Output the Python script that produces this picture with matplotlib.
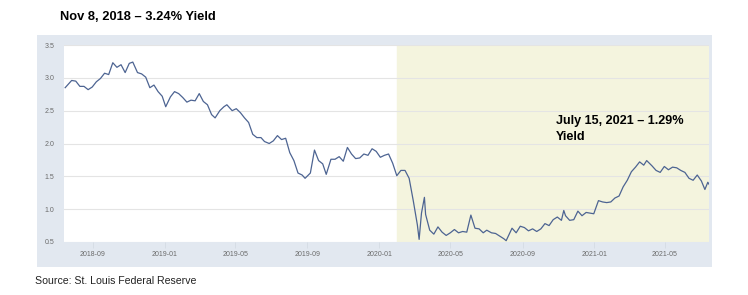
import pandas as pd
import matplotlib.pyplot as plt
import matplotlib.dates as mdates
from matplotlib.patches import Rectangle

plt.rcParams['font.family'] = ['Liberation Sans', 'DejaVu Sans']

# ---- 10Y treasury yield (approx. weekly) ----
datas = [
    "2018-07-16", "2018-07-20", "2018-07-27", "2018-08-03", "2018-08-10", "2018-08-17",
    "2018-08-24", "2018-08-31", "2018-09-07", "2018-09-14", "2018-09-21", "2018-09-28",
    "2018-10-05", "2018-10-12", "2018-10-19", "2018-10-26", "2018-11-02", "2018-11-08",
    "2018-11-16", "2018-11-23", "2018-11-30", "2018-12-07", "2018-12-14", "2018-12-21",
    "2018-12-28", "2019-01-03", "2019-01-11", "2019-01-18", "2019-01-25", "2019-02-01",
    "2019-02-08", "2019-02-15", "2019-02-22", "2019-03-01", "2019-03-08", "2019-03-15",
    "2019-03-22", "2019-03-28", "2019-04-05", "2019-04-12", "2019-04-17", "2019-04-26",
    "2019-05-03", "2019-05-10", "2019-05-17", "2019-05-24", "2019-05-31", "2019-06-07",
    "2019-06-14", "2019-06-20", "2019-06-28", "2019-07-05", "2019-07-12", "2019-07-19",
    "2019-07-26", "2019-08-02", "2019-08-09", "2019-08-16", "2019-08-23", "2019-08-28",
    "2019-09-06", "2019-09-13", "2019-09-20", "2019-09-27", "2019-10-03", "2019-10-11",
    "2019-10-18", "2019-10-25", "2019-11-01", "2019-11-08", "2019-11-15", "2019-11-22",
    "2019-11-29", "2019-12-06", "2019-12-13", "2019-12-20", "2019-12-27", "2020-01-03",
    "2020-01-10", "2020-01-17", "2020-01-24", "2020-01-31", "2020-02-07", "2020-02-14",
    "2020-02-21", "2020-02-28", "2020-03-06", "2020-03-09", "2020-03-13", "2020-03-18",
    "2020-03-20", "2020-03-27", "2020-04-03", "2020-04-10", "2020-04-17", "2020-04-24",
    "2020-05-01", "2020-05-08", "2020-05-15", "2020-05-22", "2020-05-29", "2020-06-05",
    "2020-06-12", "2020-06-19", "2020-06-26", "2020-07-02", "2020-07-10", "2020-07-17",
    "2020-07-24", "2020-07-31", "2020-08-04", "2020-08-14", "2020-08-21", "2020-08-28",
    "2020-09-04", "2020-09-11", "2020-09-18", "2020-09-25", "2020-10-02", "2020-10-09",
    "2020-10-16", "2020-10-23", "2020-10-30", "2020-11-06", "2020-11-10", "2020-11-13",
    "2020-11-20", "2020-11-27", "2020-12-04", "2020-12-11", "2020-12-18", "2020-12-24",
    "2020-12-31", "2021-01-08", "2021-01-15", "2021-01-22", "2021-01-29", "2021-02-05",
    "2021-02-12", "2021-02-19", "2021-02-26", "2021-03-05", "2021-03-12", "2021-03-19",
    "2021-03-26", "2021-03-31", "2021-04-09", "2021-04-16", "2021-04-23", "2021-04-30",
    "2021-05-07", "2021-05-14", "2021-05-21", "2021-05-28", "2021-06-04", "2021-06-11",
    "2021-06-18", "2021-06-25", "2021-07-02", "2021-07-08", "2021-07-13", "2021-07-15",
]
rendimento = [
    2.85, 2.89, 2.96, 2.95, 2.87, 2.87,
    2.82, 2.86, 2.94, 2.99, 3.07, 3.05,
    3.23, 3.16, 3.20, 3.08, 3.22, 3.24,
    3.08, 3.06, 3.01, 2.85, 2.89, 2.79,
    2.72, 2.56, 2.71, 2.79, 2.76, 2.70,
    2.63, 2.66, 2.65, 2.76, 2.64, 2.59,
    2.44, 2.39, 2.50, 2.56, 2.59, 2.50,
    2.53, 2.47, 2.39, 2.32, 2.14, 2.09,
    2.09, 2.03, 2.00, 2.04, 2.12, 2.06,
    2.08, 1.86, 1.74, 1.55, 1.52, 1.47,
    1.55, 1.90, 1.74, 1.69, 1.53, 1.76,
    1.76, 1.80, 1.73, 1.94, 1.84, 1.77,
    1.78, 1.84, 1.82, 1.92, 1.88, 1.79,
    1.82, 1.84, 1.70, 1.51, 1.59, 1.59,
    1.47, 1.13, 0.76, 0.54, 0.94, 1.18,
    0.92, 0.68, 0.62, 0.73, 0.65, 0.60,
    0.64, 0.69, 0.64, 0.66, 0.65, 0.91,
    0.71, 0.70, 0.64, 0.68, 0.64, 0.63,
    0.59, 0.55, 0.52, 0.71, 0.64, 0.74,
    0.72, 0.67, 0.70, 0.66, 0.70, 0.78,
    0.75, 0.84, 0.88, 0.83, 0.98, 0.90,
    0.83, 0.84, 0.97, 0.90, 0.95, 0.94,
    0.93, 1.13, 1.11, 1.10, 1.11, 1.17,
    1.20, 1.34, 1.44, 1.57, 1.64, 1.72,
    1.67, 1.74, 1.66, 1.59, 1.56, 1.65,
    1.60, 1.64, 1.63, 1.59, 1.56, 1.47,
    1.44, 1.52, 1.43, 1.30, 1.41, 1.38,
]
inicio_recessao = "2020-02-01"
ticks_y = [0.5, 1.0, 1.5, 2.0, 2.5, 3.0, 3.5]
ticks_x = ["2018-09-01", "2019-01-01", "2019-05-01", "2019-09-01",
           "2020-01-01", "2020-05-01", "2020-09-01", "2021-01-01", "2021-05-01"]

df = pd.DataFrame({"data": pd.to_datetime(datas), "yield": rendimento})

# =========================
# Figura
# =========================
fig = plt.figure(figsize=(7.48, 2.95), dpi=100)

# painel cinza-azulado por tras do grafico
fig.patches.append(Rectangle((37 / 748, 1 - 267 / 295), 675 / 748, 232 / 295,
                             transform=fig.transFigure, facecolor="#e2e8f0",
                             edgecolor="none", zorder=-10))

ax = fig.add_axes([64 / 748, 1 - 242 / 295, 645 / 748, 197 / 295])
ax.set_zorder(1)
ax.set_facecolor("white")

ax.axvspan(pd.Timestamp(inicio_recessao), pd.Timestamp("2021-07-20"),
           color="#f4f4de", zorder=0)
ax.plot(df["data"], df["yield"], color="#4d6492", linewidth=0.9, zorder=3)

ax.set_xlim(pd.Timestamp("2018-07-14"), pd.Timestamp("2021-07-15"))
ax.set_ylim(0.5, 3.5)
ax.set_yticks(ticks_y)
ax.set_yticklabels([f"{v:.1f}" for v in ticks_y])
ax.set_xticks(pd.to_datetime(ticks_x))
ax.xaxis.set_major_formatter(mdates.DateFormatter("%Y-%m"))
ax.grid(axis="y", color="#e4e4e4", linewidth=0.8, zorder=1)

for s in ax.spines.values():
    s.set_visible(False)
ax.tick_params(axis="y", length=0, pad=7, labelsize=5, labelcolor="#6b6b6b")
ax.tick_params(axis="x", length=4, color="#d4dbe4", width=0.6, pad=2.5,
               labelsize=5, labelcolor="#6b6b6b")

# textos
fig.text(60 / 748, 1 - 17 / 295, "Nov 8, 2018 \u2013 3.24% Yield",
         fontsize=9.3, fontweight="bold", va="center", ha="left")
fig.text(556 / 748, 1 - 129 / 295, "July 15, 2021 \u2013 1.29%\nYield",
         fontsize=9.1, fontweight="bold", va="center", ha="left", linespacing=1.4)
fig.text(35 / 748, 1 - 281 / 295, "Source: St. Louis Federal Reserve",
         fontsize=7.6, va="center", ha="left", color="#222222")

fig.savefig("out.png", dpi=100)
